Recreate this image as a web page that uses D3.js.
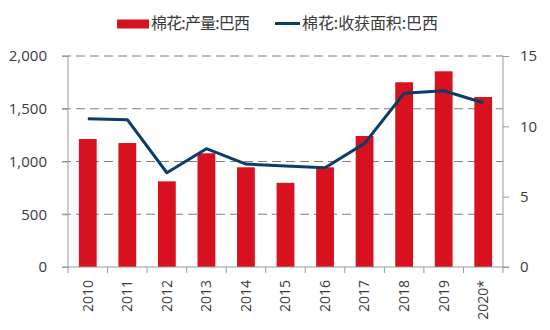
<!DOCTYPE html>
<html><head><meta charset="utf-8">
<script src="https://cdn.jsdelivr.net/npm/d3@7"></script>
<style>body{margin:0;background:#fff}</style>
</head><body>
<svg id="c" width="550" height="330"></svg>
<script>
const categories = ["2010","2011","2012","2013","2014","2015","2016","2017","2018","2019","2020*"];
const production = [1213,1175,812,1078,945,798,945,1242,1751,1855,1611];
const area = [10.54,10.47,6.70,8.41,7.32,7.18,7.06,8.79,12.35,12.53,11.68];
const leftTicks = [0,500,1000,1500,2000];
const rightTicks = [0,5,10,15];
const seriesNames = ["棉花:产量:巴西","棉花:收获面积:巴西"];

const svg = d3.select("#c");
const font = "'Noto Sans CJK SC','Noto Sans',sans-serif";
const numFont = "'Open Sans','Noto Sans',sans-serif";
const red = "#d7111d", navy = "#0c3d68", axisCol = "#999", txt = "#3a3a3a";
const x0 = 68, x1 = 503, yTop = 56, yBot = 267;

const x = d3.scaleBand().domain(categories).range([x0, x1]).paddingInner(0.55).paddingOuter(0.275);
const yL = d3.scaleLinear().domain([0, 2000]).range([yBot, yTop]);
const yR = d3.scaleLinear().domain([0, 15]).range([yBot, yTop]);

// gridlines
svg.append("g").selectAll("line").data(leftTicks.filter(d => d > 0)).join("line")
  .attr("x1", x0 - 6).attr("x2", x1).attr("y1", d => yL(d)).attr("y2", d => yL(d))
  .attr("stroke", "#7f7f7f").attr("stroke-width", 1).attr("stroke-dasharray", "9,5");

// bars
svg.append("g").selectAll("rect").data(categories).join("rect")
  .attr("x", d => x(d)).attr("width", x.bandwidth())
  .attr("y", (d, i) => yL(production[i])).attr("height", (d, i) => yBot - yL(production[i]))
  .attr("fill", red);

// line
const line = d3.line().x((d, i) => x(categories[i]) + x.bandwidth() / 2).y(d => yR(d));
svg.append("path").datum(area).attr("d", line).attr("fill", "none")
  .attr("stroke", navy).attr("stroke-width", 3).attr("stroke-linejoin", "round");

// left axis
const gl = svg.append("g").attr("transform", `translate(${x0},0)`)
  .call(d3.axisLeft(yL).tickValues(leftTicks).tickSize(6).tickPadding(15).tickFormat(d3.format(",")));
// right axis
const gr = svg.append("g").attr("transform", `translate(${x1},0)`)
  .call(d3.axisRight(yR).tickValues(rightTicks).tickSize(6).tickPadding(11));
// bottom axis
const gb = svg.append("g").attr("transform", `translate(0,${yBot})`)
  .call(d3.axisBottom(x).tickSize(0).tickPadding(14));
gb.selectAll(".tick text").attr("transform", "rotate(-90)").attr("text-anchor", "end")
  .attr("x", -13).attr("y", 0).attr("dy", "0.35em");
// category boundary ticks
const bounds = d3.range(categories.length + 1).map(i => x0 + i * x.step());
gb.append("g").selectAll("line").data(bounds).join("line")
  .attr("x1", d => d).attr("x2", d => d).attr("y1", 0).attr("y2", 6).attr("stroke", axisCol);
gb.select(".domain").attr("d", `M${x0 - 6},0H${x1 + 6}`);

[gl, gr, gb].forEach(g => {
  g.selectAll(".domain").attr("stroke", axisCol);
  g.selectAll(".tick line").attr("stroke", axisCol);
  g.selectAll("text").attr("fill", txt).style("font-family", numFont).style("font-size", "15px");
});
gb.selectAll("text").style("font-size", "14px");
gl.select(".domain").attr("d", `M0,${yTop}V${yBot}`);
gr.select(".domain").attr("d", `M0,${yTop}V${yBot}`);

// legend
const lg = svg.append("g").style("font-family", font).style("font-size", "16px");
lg.append("rect").attr("x", 117).attr("y", 19.5).attr("width", 32).attr("height", 9).attr("fill", red);
lg.append("text").attr("x", 151).attr("y", 28.5).attr("fill", txt)
  .attr("textLength", 99).attr("lengthAdjust", "spacing").text(seriesNames[0]);
lg.append("line").attr("x1", 275).attr("x2", 300).attr("y1", 23.5).attr("y2", 23.5).attr("stroke", navy).attr("stroke-width", 3);
lg.append("text").attr("x", 302).attr("y", 28.5).attr("fill", txt)
  .attr("textLength", 136).attr("lengthAdjust", "spacing").text(seriesNames[1]);
</script>
</body></html>
